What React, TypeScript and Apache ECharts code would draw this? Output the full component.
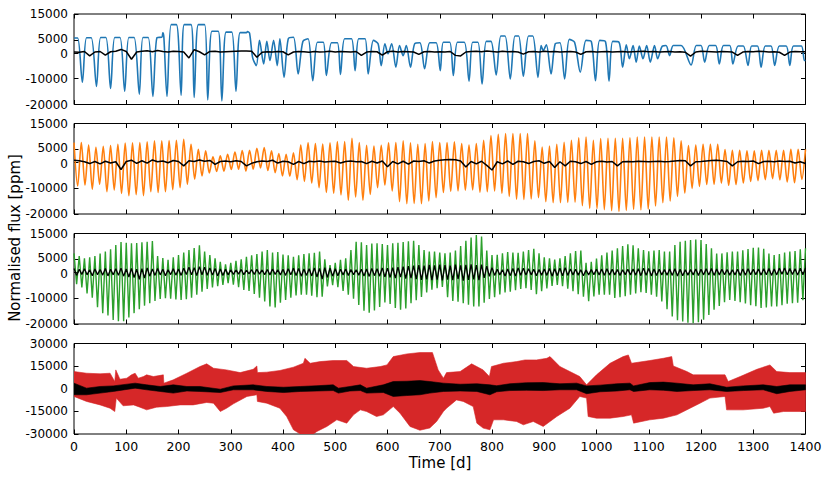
import React, { useEffect, useRef } from "react";
import * as echarts from "echarts";

// ---------- axes ----------
const X_MIN = 0;
const X_MAX = 1400;
const X_STEP = 100;
const Y_TICKS_A = [-20000, -10000, 0, 5000, 15000];
const Y_TICKS_B = [-30000, -15000, 0, 15000, 30000];

// ---------- panel 1 (blue) turning points [day, ppm] ----------
const BLUE_TURNS: [number, number][] = [
  [0, 5700], [7, 5700], [16, -11400], [24, 5800], [33, 5800], [43, -13000], [51, 5900], [61, 5900], [70, -13800],
  [78, 5900], [88, 5900], [97, -14900], [105, 5900], [115, 5900], [125, -16000], [132, 5900], [142, 5900], [151, -16900],
  [159, 5900], [168, 6000], [170, 7700], [172, 6000], [178, -16900], [186, 10900], [196, 10900], [205, -16400],
  [211, 10900], [224, 10900], [230, -17300], [238, 10900], [250, 10900], [256, -18200], [264, 8300], [276, 8300],
  [283, -18600], [291, 8000], [302, 8000], [310, -14900], [318, 7800], [330, 7800], [332, 8200], [336, 7600],
  [342, -2000], [349, -4950], [355, 4800], [363, -4300], [369, 4400], [375, -3000], [382, 4800], [389, -4950],
  [394, 5400], [402, -9500], [410, 5400], [420, 6000], [429, -8200], [438, 4400], [448, 5400], [457, -10800],
  [466, 4100], [477, 4100], [483, -8800], [493, 3900], [504, 3900], [510, -8400], [518, 5400], [531, 5400],
  [538, -6900], [545, 5400], [557, 5400], [563, -8200], [573, 4800], [582, 3500], [588, -4950], [595, 3500],
  [601, -400], [608, 3500], [616, -5600], [623, 2800], [630, -1100], [636, 2800], [644, -5600], [652, 3500],
  [662, 3900], [671, -6200], [681, 3900], [693, 3900], [701, -6900], [707, 4100], [719, 4100], [726, -8800],
  [734, 4100], [747, 4100], [756, -11000], [763, 4100], [773, 4100], [781, -12100], [789, 4400], [798, 4400],
  [808, -8600], [817, 6500], [825, 6500], [835, -10100], [844, 6500], [851, 6500], [860, -9100], [870, 6500],
  [878, 6500], [888, -9500], [894, 2800], [898, 900], [904, 3100], [913, -8200], [921, 3500], [930, 3900],
  [939, -10100], [948, 5200], [958, 4100], [969, -7500], [980, 4800], [990, 4400], [998, -10800], [1006, 4800],
  [1017, 4400], [1024, -11000], [1031, 4400], [1043, 4100], [1050, -5600], [1057, 3100], [1063, -2300],
  [1070, 2800], [1076, -3600], [1082, 2600], [1089, -2300], [1096, 2800], [1103, -3600], [1111, 2800],
  [1117, -2300], [1126, 2600], [1133, 2800], [1140, -1100], [1147, 2800], [1162, 2800], [1181, -4700],
  [1191, 2800], [1200, 2800], [1207, -3600], [1216, 2800], [1228, 2800], [1235, -4300], [1243, 2800],
  [1255, 2800], [1261, -4300], [1271, 2600], [1281, 2600], [1290, -4900], [1297, 2600], [1308, 2600],
  [1315, -5600], [1323, 2600], [1334, 2600], [1341, -4900], [1350, 2600], [1363, 2600], [1370, -4900],
  [1377, 2600], [1392, 2600], [1398, -3000], [1400, -3000],
];

// black residual in panel 1, sampled every 10 d
const BLACK1_STEP = 10;
const BLACK1 = [
  300, 200, 500, -1200, 300, 500, -900, 400, 600, 1300,
  500, -2500, 300, 600, 800, 400, 900, 500, 300, 600,
  500, 300, -2000, 1200, 400, -800, 500, 600, 300, 400,
  500, 600, 700, 700, 600, -1700, 200, 400, 300, 500,
  400, -800, 300, 500, 400, 200, 500, 300, 400, 600,
  300, 500, 400, 300, 500, -1000, 300, 500, 400, -900,
  400, 600, 300, 500, 400, 300, -600, 400, 500, 300,
  400, 300, 500, -1000, -1200, 300, 500, 600, 400, 700,
  500, 300, 600, 400, 500, 300, -500, 400, 500, 300,
  600, 400, 500, 300, 400, 500, 300, -600, 400, 500,
  300, 400, 500, 300, 400, 500, 300, 400, 500, 600,
  400, 500, 300, 400, 500, 300, 400, 200, -1300, 300,
  600, 500, 400, 300, 500, 400, 300, -1000, 300, 500,
  400, 600, 500, 300, 400, 200, -1000, 300, 500, 400,
  400,
];

// ---------- panel 2 (orange): peaks every 14 d, dips half-way ----------
const ORANGE_STEP = 14;
const ORANGE_PEAKS = [
  7600, 7600, 6700, 5800, 6200, 6500, 7000, 7400, 7500, 7600,
  7900, 8300, 8300, 8400, 8500, 8900, 7000, 5000, 4400, 2100,
  2500, 3100, 4000, 4500, 4600, 5400, 5700, 4400, 3400, 3100,
  3700, 6700, 7500, 7200, 7100, 7500, 8000, 8000, 9300, 7600,
  6600, 6300, 6600, 7500, 7600, 8300, 7500, 7000, 7200, 8000,
  7600, 7600, 7900, 7200, 6700, 7200, 8500, 10300, 10800, 11100,
  11100, 11100, 11100, 8300, 5900, 6300, 7000, 7700, 8500, 9500,
  9800, 8500, 9200, 9300, 9300, 9300, 9500, 9800, 9800, 9800,
  9800, 9800, 9500, 8300, 6500, 6700, 7000, 7000, 7000, 4900,
  4600, 4600, 4400, 4400, 4600, 4600, 4600, 4600, 5000, 5000,
  5000,
];
const ORANGE_DIPS = [
  -9200, -8800, -10400, -8500, -11400, -10700, -12100, -12900, -12500, -12900,
  -11400, -11700, -11400, -10600, -9800, -8500, -6500, -5300, -4100, -3500,
  -3400, -2800, -2700, -3400, -2700, -2200, -3200, -4000, -5300, -5400,
  -6700, -7400, -8000, -9800, -11700, -12000, -12600, -14700, -13400, -14700,
  -12400, -9800, -8800, -11100, -15200, -16000, -15900, -16000, -15000, -13700,
  -11700, -11200, -11100, -10800, -10700, -11600, -11400, -11100, -12000, -13200,
  -14300, -14400, -14200, -13700, -15200, -15600, -15600, -15500, -15400, -16800,
  -17800, -17900, -18300, -18700, -19000, -18600, -18200, -18400, -18100, -16900,
  -15600, -15000, -13200, -11900, -10100, -9300, -8600, -8500, -8000, -8900,
  -8600, -8000, -7400, -7100, -6700, -6300, -6800, -7600, -7900, -6600,
];
const BLACK2_STEP = 10;
const BLACK2 = [
  800, 600, 200, -500, 300, -600, 400, -300, 200, -2800,
  300, 800, -400, 600, -300, 900, 200, 500, -200, 700,
  300, -1400, 600, 300, 900, 400, 700, -800, 300, 500,
  200, 600, 300, -1400, -400, 200, 500, 300, 800, -300,
  400, 200, -800, 300, -500, 400, 200, 500, 100, 300,
  400, -300, 300, 500, 200, 300, -500, 400, -300, 500,
  -1700, 300, -600, 400, -700, 500, 300, 600, -300, 500,
  800, 1000, 1100, 1000, 500, -1800, 300, -600, 400, -1200,
  -3000, 200, -600, 500, -800, 400, 200, -500, 300, 600,
  -400, 300, -2000, 200, -1400, 400, 200, -500, 300, -800,
  200, 400, 100, 300, -1400, 200, 300, 200, 400, 300,
  200, 300, 400, 200, 300, 500, 700, 600, -1400, 200,
  300, 500, 700, 800, 600, 300, -1400, 200, 400, 300,
  500, -500, 300, 400, 200, 500, 300, 400, -300, 200,
  -500,
];

// ---------- panel 3 (green): maxima every 10 d, minima half-way ----------
const GREEN_STEP = 10;
const GREEN_UP = [
  7300, 6300, 5400, 5800, 6300, 7300, 8000, 8900, 10500, 11700,
  11400, 11200, 11300, 11600, 11800, 12100, 6300, 5500, 4800, 5800,
  6700, 7600, 8600, 9400, 10400, 8000, 6700, 5400, 4000, 3100,
  3700, 4400, 5000, 6000, 6600, 7100, 8000, 8600, 7600, 7800,
  6900, 6600, 6000, 6600, 7100, 7300, 7500, 8000, 5000, 2800,
  3700, 4800, 5400, 8600, 11800, 11600, 10500, 11100, 11200, 10900,
  10500, 11200, 11400, 11700, 12000, 12200, 10500, 8600, 8000, 8000,
  7600, 7300, 7600, 8400, 10200, 12200, 13400, 14400, 13800, 8400,
  6700, 6800, 7300, 7800, 7600, 7500, 8000, 8600, 9100, 7300,
  5800, 5400, 4900, 5400, 6300, 7300, 8200, 8400, 3700, 4100,
  5300, 6600, 7600, 8400, 9300, 10200, 10800, 10400, 9300, 8600,
  8100, 8400, 8600, 8000, 8000, 10500, 11800, 12200, 12500, 12700,
  12500, 10900, 9300, 7300, 7300, 7700, 8000, 8000, 8500, 9000,
  9500, 9600, 9100, 7300, 6700, 7100, 7600, 8000, 8200, 8900,
  9300,
];
const GREEN_LO = [
  -4600, -5900, -8200, -9800, -13500, -15800, -16700, -18400, -18900, -18900,
  -17500, -15800, -14300, -12900, -12000, -11100, -10300, -10000, -10200, -10500,
  -10700, -10400, -9800, -8700, -7500, -6400, -5900, -5400, -4900, -4200,
  -4800, -5800, -6800, -7200, -8400, -9800, -11300, -13200, -13600, -11800,
  -10700, -9800, -9000, -8700, -8700, -9100, -9600, -9400, -5500, -5000,
  -5800, -7200, -8700, -10200, -12600, -14900, -15600, -14800, -13400, -11700,
  -12300, -13800, -14500, -14000, -12000, -10800, -9500, -7800, -6700, -6200,
  -5700, -9600, -11100, -11400, -12000, -12500, -13200, -13200, -11800, -10300,
  -9600, -8600, -7800, -7500, -6900, -6400, -6200, -6800, -8500, -7300,
  -6200, -5300, -4900, -5400, -6300, -7300, -8500, -9400, -11200, -9300,
  -8700, -8700, -8700, -9900, -9600, -9300, -8700, -8200, -7700, -8000,
  -8700, -9400, -11300, -14300, -17100, -18500, -19000, -19500, -19700, -19300,
  -18300, -16500, -14500, -13000, -11600, -10700, -11100, -11600, -12100, -12700,
  -13100, -13800, -13600, -13200, -13200, -12700, -12200, -12000, -11800, -10800,
];
const BLACK3_STEP = 10;
const BLACK3_UP = [
  1500, 1200, 1400, 1000, 1300, 1100, 1500, 1200, 1400, 1600, 1300,
  1500, 1200, 1400, 1700, 1300, 1500, 1200, 1000, 1400, 1300,
  1600, 2000, 1800, 2200, 2000, 1700, 1500, 1300, 1200, 1000,
  900, 1100, 800, 1000, 1200, 900, 1100, 1300, 1000, 1200,
  1400, 1600, 1500, 1300, 1400, 1700, 1500, 1800, 1600, 1400,
  1200, 1300, 1100, 1000, 1200, 1300, 1500, 1400, 1700, 1600,
  1800, 2000, 2200, 2400, 2600, 2800, 2600, 2900, 2700, 3000,
  2800, 2600, 3000, 2700, 2900, 3100, 2800, 3000, 2400, 1800,
  1200, 1000, 1300, 1500, 1700, 1600, 1400, 1200, 1100, 1300,
  1500, 1400, 1600, 1800, 1300, 1200, 1000, 900, 1100, 1200,
  1300, 1400, 1200, 1100, 1000, 1200, 1300, 1400, 1600, 1500,
  1300, 1200, 1100, 1300, 1400, 1200, 1000, 1100, 1300, 1200,
  1400, 1500, 1300, 1200, 1100, 1000, 1200, 1300, 1400, 1200,
  1300, 1400, 1500, 1300, 1600, 1700, 1500, 1400, 1600, 1700,
];
const BLACK3_LO = [
  -1200, -800, -1000, -1300, -900, -1100, -1400, -1000, -1200, -1500,
  -1800, -2000, -2700, -2200, -1500, -1200, -1000, -1300, -900, -1100,
  -1200, -900, -1000, -1300, -1000, -1200, -1100, -1400, -1200, -1000,
  -800, -700, -900, -600, -800, -700, -900, -1000, -800, -1000,
  -1200, -1000, -1300, -1500, -1200, -1400, -1800, -2600, -2000, -1500,
  -1300, -1000, -1200, -900, -1100, -1400, -1600, -1300, -1500, -1800,
  -2000, -2200, -1900, -2400, -2300, -2600, -2900, -2700, -3000, -2800,
  -3100, -2800, -3000, -2600, -3200, -2900, -2700, -3000, -2200, -1600,
  -1200, -1000, -1400, -1300, -1500, -1200, -1100, -1000, -1300, -1100,
  -1200, -1500, -1300, -1400, -1200, -1000, -1100, -1300, -1000, -900,
  -1000, -1200, -1100, -1000, -1200, -900, -1000, -1100, -1300, -1200,
  -1400, -1200, -1000, -1100, -1200, -1400, -1300, -1100, -1000, -1200,
  -1000, -1100, -1200, -1000, -900, -1100, -1000, -1200, -1100, -1000,
  -900, -1100, -1000, -1200, -1000, -800, -1000, -900, -1100, -1000,
];

// ---------- panel 4 (red): envelope of the dense signal [day, ppm] ----------
const RED_UPPER: [number, number][] = [
  [0, 11400], [24, 10300], [50, 9900], [69, 10300], [78, 4800], [80, 12500], [88, 6300], [101, 7000], [110, 9200],
  [117, 10300], [123, 7000], [133, 8100], [139, 9200], [152, 8100], [171, 9200], [172, 3700], [190, 5900],
  [216, 10300], [241, 14700], [254, 16500], [267, 13600], [292, 12500], [318, 10700], [343, 12900], [350, 15100],
  [351, 10700], [369, 11000], [394, 12100], [420, 14300], [439, 16900], [442, 20200], [452, 16900], [471, 18000],
  [496, 18700], [522, 18700], [528, 16900], [535, 14700], [560, 13600], [586, 14700], [599, 15800], [611, 21300],
  [637, 23100], [662, 24000], [686, 24000], [697, 12500], [707, 7000], [713, 10700], [739, 11400], [761, 16500],
  [777, 13600], [783, 12500], [795, 8100], [799, 14700], [822, 16900], [847, 18000], [863, 19100], [885, 19100],
  [905, 20200], [911, 21300], [930, 14700], [949, 11400], [968, 8100], [981, 2600], [1000, 9200], [1026, 16900],
  [1051, 21300], [1061, 22400], [1067, 16900], [1102, 18700], [1128, 20200], [1144, 21300], [1147, 15100],
  [1173, 11400], [1185, 9200], [1217, 9200], [1246, 9200], [1252, 4800], [1275, 8100], [1307, 12900],
  [1332, 15800], [1345, 11400], [1370, 10700], [1400, 10700],
];
const RED_LOWER: [number, number][] = [
  [0, -5100], [24, -8400], [50, -10700], [69, -12900], [78, -15100], [81, -6200], [94, -11300], [114, -10700],
  [126, -12200], [139, -14000], [158, -12200], [177, -11800], [203, -10700], [228, -10700], [254, -9100],
  [267, -9600], [280, -15100], [292, -12900], [305, -10000], [331, -5100], [350, -4000], [351, -8400],
  [369, -9600], [394, -12900], [407, -18400], [420, -27200], [433, -30000], [458, -30000], [465, -28300],
  [484, -25000], [503, -20600], [522, -22800], [535, -17300], [548, -14000], [560, -15100], [579, -18400],
  [592, -17300], [611, -11800], [624, -16200], [643, -25000], [662, -27500], [681, -26000], [694, -21700],
  [707, -15100], [713, -12900], [732, -7400], [745, -8400], [764, -11800], [771, -22800], [783, -26100],
  [796, -27200], [803, -20600], [822, -20600], [847, -21700], [860, -23900], [879, -21700], [898, -25000],
  [924, -18400], [949, -12900], [968, -5100], [981, -6200], [984, -18400], [1000, -19500], [1026, -19500],
  [1051, -18400], [1067, -17300], [1071, -22800], [1102, -20600], [1128, -19500], [1154, -17300],
  [1179, -12900], [1198, -9600], [1217, -6200], [1246, -5100], [1249, -14000], [1281, -14000], [1319, -12900],
  [1332, -11800], [1339, -16200], [1358, -15100], [1400, -15100],
];
const BLACK4_T = [
  0, 24, 50, 75, 117, 139, 165, 190, 216, 241, 280, 305, 343, 369, 401, 433, 465, 496, 506, 528,
  548, 560, 592, 611, 637, 662, 681, 707, 739, 771, 796, 809, 834, 866, 898, 930, 962, 981, 1007, 1039,
  1064, 1071, 1102, 1128, 1154, 1185, 1217, 1249, 1281, 1319, 1345, 1370, 1400,
];
const BLACK4_UP = [
  3700, 400, 1500, 1900, 3700, 2600, 1500, 2600, 1500, 1500, -300, 1900, 2600, 1500, 1000, 1500, 2000, 2600, 400, 1500,
  2600, 400, 2600, 4800, 5000, 5400, 4800, 3700, 3000, 3300, 2600, 2000, 3300, 4000, 4100, 3300, 3700, 1900, 2400, 3300,
  3700, 1900, 4100, 4400, 3700, 2600, 3300, 1000, 1900, 2600, 1500, 2600, 2600,
];
const BLACK4_LO = [
  -4000, -4000, -2900, -1800, 400, -700, -1800, -2900, -1500, -1800, -2500, -700, -700, -1800, -2500, -1800, -1500, -1200, -2900, -1500,
  -1200, -2900, -2500, -5100, -4500, -4000, -2900, -1800, -1500, -1800, -4000, -2000, -1200, -1000, -1200, -700, -700, -3300, -2000, -1500,
  -700, -1800, -700, -1000, -1800, -1200, -700, -1800, -1200, -700, -3300, -1800, -700,
];

// ---------- colours ----------
const C_BLUE = "#1f77b4";
const C_ORANGE = "#ff7f0e";
const C_GREEN = "#2ca02c";
const C_RED = "#d62728";
const C_BLACK = "#000000";

const FONT = "DejaVu Sans";

// sampled arrays -> [day, value]
function sampled(values: number[], step: number): [number, number][] {
  return values.map((v, i) => [i * step, v] as [number, number]);
}
// maxima at k*step, minima at k*step + step/2
function alternating(up: number[], lo: number[], step: number): [number, number][] {
  const out: [number, number][] = [];
  for (let i = 0; i < up.length; i++) {
    out.push([i * step, up[i]]);
    if (i < lo.length) out.push([i * step + step / 2, lo[i]]);
  }
  return out;
}

function lineSeries(data: [number, number][], color: string, g: number, width: number, smooth: number | boolean = false) {
  return {
    type: "line",
    xAxisIndex: 2 * g,
    yAxisIndex: 2 * g,
    data,
    showSymbol: false,
    symbol: "none",
    clip: true,
    silent: true,
    smooth,
    lineStyle: { color, width },
    itemStyle: { color },
  };
}

function bandSeries(upper: [number, number][], lower: [number, number][], color: string, g: number) {
  return {
    type: "custom",
    xAxisIndex: 2 * g,
    yAxisIndex: 2 * g,
    data: [[0, 0]],
    silent: true,
    clip: true,
    renderItem: (_params: any, api: any) => {
      const pts = upper
        .map((p) => api.coord(p))
        .concat(lower.slice().reverse().map((p) => api.coord(p)));
      return {
        type: "polygon",
        shape: { points: pts },
        style: { fill: color, stroke: color, lineWidth: 0.6 },
      };
    },
  };
}

const GRID_TOPS = [14, 123.5, 233.5, 343.5];
const GRID_H = 90.5;

function buildOption() {
  const grids = GRID_TOPS.map((top) => ({
    left: 74,
    width: 731.5,
    top,
    height: GRID_H,
    show: true,
    borderColor: "#000",
    borderWidth: 1,
    backgroundColor: "transparent",
  }));

  const tickStyle = { inside: true, length: 4.5, lineStyle: { color: "#000", width: 1 } };
  const labelStyle = { color: "#000", fontSize: 12, lineHeight: 12, fontFamily: FONT };
  // the close pair 5000 / 0 is nudged apart by 1 px each so their boxes do not touch
  const rich = {
    up: { color: "#000", fontSize: 12, lineHeight: 12, fontFamily: FONT, padding: [0, 0, 2.5, 0] },
    dn: { color: "#000", fontSize: 12, lineHeight: 12, fontFamily: FONT, padding: [2.5, 0, 0, 0] },
  };

  const xAxes: any[] = [];
  const yAxes: any[] = [];
  for (let g = 0; g < 4; g++) {
    for (const pos of ["bottom", "top"]) {
      xAxes.push({
        gridIndex: g,
        type: "value",
        position: pos,
        min: X_MIN,
        max: X_MAX,
        interval: X_STEP,
        axisLine: { show: false, onZero: false },
        axisTick: tickStyle,
        splitLine: { show: false },
        axisLabel: {
          show: g === 3 && pos === "bottom",
          margin: 6,
          ...labelStyle,
          fontSize: 12.5,
          formatter: (v: number) => String(v),
        },
      });
    }
    const ticks = g === 3 ? Y_TICKS_B : Y_TICKS_A;
    for (const pos of ["left", "right"]) {
      yAxes.push({
        gridIndex: g,
        type: "value",
        position: pos,
        min: ticks[0],
        max: ticks[ticks.length - 1],
        interval: g === 3 ? 15000 : 5000,
        axisLine: { show: false, onZero: false },
        axisTick: { ...tickStyle, customValues: ticks },
        splitLine: { show: false },
        axisLabel: {
          show: pos === "left",
          margin: 6,
          customValues: ticks,
          ...labelStyle,
          rich,
          formatter: (v: number) => {
            if (g < 3 && v === 5000) return "{up|5000}";
            if (g < 3 && v === 0) return "{dn|0}";
            return String(v);
          },
        },
      });
    }
  }

  const series: any[] = [
    lineSeries(BLUE_TURNS, C_BLUE, 0, 1.6, 0.3),
    lineSeries(sampled(BLACK1, BLACK1_STEP), C_BLACK, 0, 1.5),
    lineSeries(alternating(ORANGE_PEAKS, ORANGE_DIPS, ORANGE_STEP), C_ORANGE, 1, 1.6, 0.3),
    lineSeries(sampled(BLACK2, BLACK2_STEP), C_BLACK, 1, 1.5),
    lineSeries(alternating(GREEN_UP, GREEN_LO, GREEN_STEP), C_GREEN, 2, 1.4),
    lineSeries(alternating(BLACK3_UP, BLACK3_LO, BLACK3_STEP), C_BLACK, 2, 1.3),
    bandSeries(RED_UPPER, RED_LOWER, C_RED, 3),
    bandSeries(
      BLACK4_T.map((t, i) => [t, BLACK4_UP[i]] as [number, number]),
      BLACK4_T.map((t, i) => [t, BLACK4_LO[i]] as [number, number]),
      C_BLACK,
      3
    ),
  ];

  return {
    animation: false,
    backgroundColor: "#ffffff",
    grid: grids,
    xAxis: xAxes,
    yAxis: yAxes,
    series,
    graphic: [
      {
        type: "text",
        x: 15,
        y: 238,
        rotation: Math.PI / 2,
        style: {
          text: "Normalised flux [ppm]",
          fill: "#000",
          font: `15px '${FONT}'`,
          textAlign: "center",
          textVerticalAlign: "middle",
        },
      },
      {
        type: "text",
        x: 440,
        y: 462.5,
        style: {
          text: "Time [d]",
          fill: "#000",
          font: `15px '${FONT}'`,
          textAlign: "center",
          textVerticalAlign: "middle",
        },
      },
    ],
  };
}

export default function App() {
  const ref = useRef<HTMLDivElement>(null);
  useEffect(() => {
    if (!ref.current) return;
    const chart = echarts.init(ref.current, undefined, { renderer: "svg" });
    chart.setOption(buildOption() as any);
    return () => chart.dispose();
  }, []);
  return (
    <div
      ref={ref}
      style={{ position: "absolute", left: 0, top: 0, width: 830, height: 480, background: "#fff" }}
    />
  );
}
